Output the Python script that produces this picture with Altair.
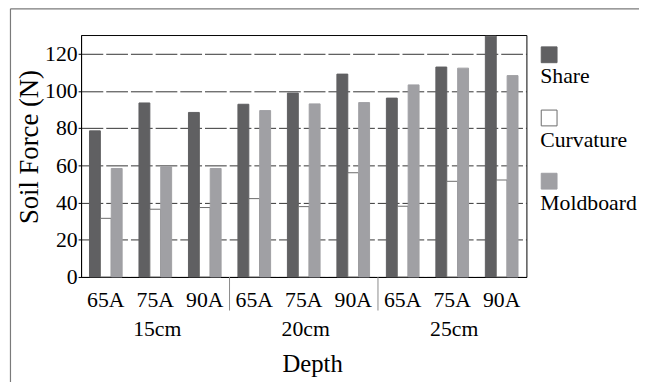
import altair as alt
import pandas as pd

# ---- data ----
depths = ["15cm", "20cm", "25cm"]
angles = ["65A", "75A", "90A"]
series = ["Share", "Curvature", "Moldboard"]
share = [78.5, 93.5, 88.4, 92.8, 98.8, 109.0, 96.1, 112.8, 129.4]
curvature = [31.5, 36.4, 37.3, 42.1, 37.8, 56.0, 38.0, 51.4, 52.1]
moldboard = [58.3, 59.2, 58.3, 89.4, 93.0, 93.7, 103.2, 112.2, 108.2]
y_ticks = [0, 20, 40, 60, 80, 100, 120]

keys = [f"{d} {a}" for d in depths for a in angles]
rows = []
for s, vals in zip(series, [share, curvature, moldboard]):
    for k, v in zip(keys, vals):
        rows.append({"key": k, "series": s, "force": v})
df = pd.DataFrame(rows)

sep_df = pd.DataFrame({"key": [keys[3], keys[6]]})
depth_df = pd.DataFrame({"key": [keys[1], keys[4], keys[7]], "label": depths})

# ---- styling ----
FONT = "Liberation Serif"
W, H = 451, 245
PI, PO = 0.34, 0.17
STEP = W / len(keys)
fills = ["#606062", "#ffffff", "#a0a0a4"]
strokes = ["#606062", "#6a6a6a", "#a0a0a4"]
# square drawn above-right of the symbol anchor so that the label sits under it
LEGEND_SQUARE = "M1.5,-4.625H3.5V-2.625H1.5Z"

xscale = alt.Scale(domain=keys, paddingInner=PI, paddingOuter=PO)

legend = alt.Legend(
    title=None, orient="none", legendX=443, legendY=38,
    symbolType=LEGEND_SQUARE, symbolSize=256, symbolStrokeWidth=1,
    labelOffset=0, labelBaseline="alphabetic", labelFontSize=22,
    labelFont=FONT, labelColor="black", rowPadding=21,
)

bars = alt.Chart(df).mark_bar(strokeWidth=1).encode(
    x=alt.X(
        "key:N", scale=xscale, title="Depth",
        axis=alt.Axis(
            labelExpr="split(datum.label, ' ')[1]", ticks=False,
            labelPadding=30, labelBaseline="alphabetic", labelAngle=0,
            labelFontSize=22, titleFontSize=25, titleY=96, titleX=234,
            titleBaseline="alphabetic", titleAlign="center",
            domainColor="black", grid=False,
        ),
    ),
    xOffset=alt.XOffset("series:N", scale=alt.Scale(domain=series)),
    y=alt.Y(
        "force:Q", scale=alt.Scale(domain=[0, 130], nice=False),
        title="Soil Force (N)",
        axis=alt.Axis(
            values=y_ticks, tickSize=3, tickColor="black", labelPadding=1,
            labelFontSize=22, titleFontSize=27, titleAngle=270,
            titleX=-44, titleY=113, titleBaseline="alphabetic",
            titleAlign="center", domainColor="black",
            grid=True, gridDash=[22, 3], gridColor="#333333", gridOpacity=1,
        ),
    ),
    fill=alt.Fill("series:N", scale=alt.Scale(domain=series, range=fills), legend=legend),
    stroke=alt.Stroke("series:N", scale=alt.Scale(domain=series, range=strokes), legend=legend),
)

separators = alt.Chart(sep_df).mark_rule(
    color="#8a8a8a", strokeWidth=1, xOffset=-PO * STEP
).encode(
    x=alt.X("key:N", scale=xscale, title="Depth", bandPosition=0),
    y=alt.value(H),
    y2=alt.value(H + 34),
)

depth_labels = alt.Chart(depth_df).mark_text(
    font=FONT, fontSize=22, baseline="alphabetic", dx=2, color="black"
).encode(
    x=alt.X("key:N", scale=xscale, title="Depth"),
    y=alt.value(H + 60),
    text="label:N",
)

frame_df = pd.DataFrame({"a": [0]})
frame_left = alt.Chart(frame_df).mark_rule(color="#7a7a7a", strokeWidth=1.2).encode(
    x=alt.value(-71.5), y=alt.value(-26.5), y2=alt.value(H + 125)
)
frame_top = alt.Chart(frame_df).mark_rule(color="#7a7a7a", strokeWidth=1.2).encode(
    x=alt.value(-71.5), x2=alt.value(W + 120), y=alt.value(-26.5)
)

chart = alt.layer(bars, separators, depth_labels, frame_left, frame_top).properties(
    width=W, height=H,
    autosize=alt.AutoSizeParams(type="none"),
    padding={"left": 74, "top": 25, "right": 114, "bottom": 104},
    background="white",
).configure(
    font=FONT,
).configure_view(
    stroke="black", strokeWidth=1
).configure_axis(
    labelFont=FONT, titleFont=FONT, labelColor="black", titleColor="black",
    titleFontWeight="normal",
).configure_legend(
    labelFont=FONT, labelFontSize=22, labelColor="black",
)

chart.save("out.html", embed_options={"renderer": "svg", "actions": False})
